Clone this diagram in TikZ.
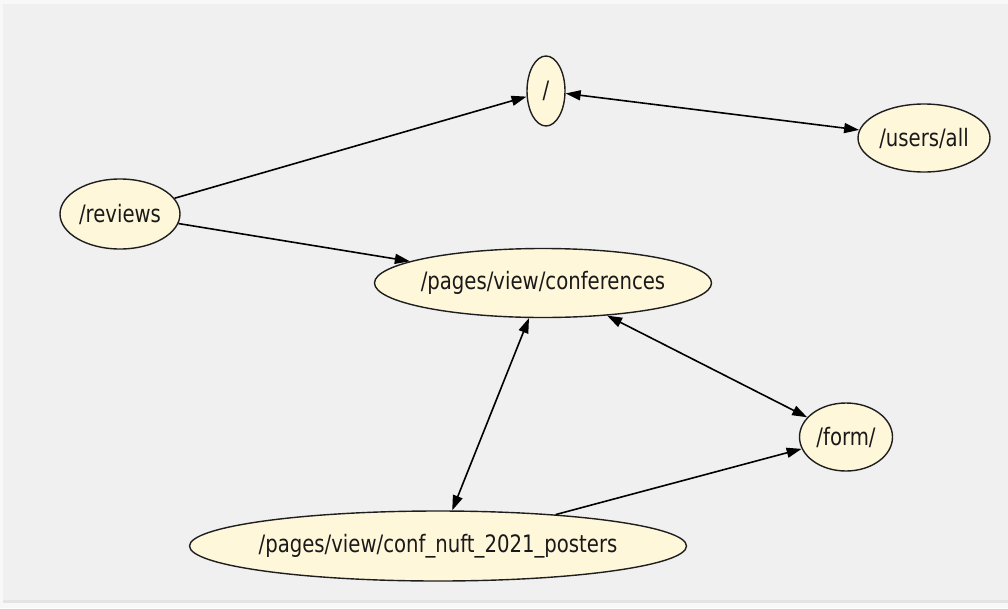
\documentclass[tikz,border=0pt]{standalone}
\usepackage{fontspec}
\setmainfont[FakeStretch=0.82]{DejaVu Sans}
\usetikzlibrary{shapes.geometric,arrows.meta}
\definecolor{pagebg}{HTML}{F0F0F0}
\definecolor{edgebg}{HTML}{F8F8F8}
\definecolor{rulebg}{HTML}{E4E4E4}
\definecolor{nodefill}{HTML}{FFF7DA}
\definecolor{nodeline}{HTML}{1E1E1E}
% label centred without widening its ellipse
\newcommand{\routetext}[1]{\makebox[0pt]{#1}}
\tikzset{
  route/.style={ellipse, draw=nodeline, line width=1.4pt, fill=nodefill,
    inner sep=0pt, font=\fontsize{24}{27}\selectfont, text=black!90},
  tip/.style={},
  link/.style={line width=1.6pt, draw=black, -{Triangle[length=15pt,width=10pt]}},
  both/.style={link, {Triangle[length=15pt,width=10pt]}-{Triangle[length=15pt,width=10pt]}}
}
\begin{document}
\begin{tikzpicture}[x=1pt,y=-1pt]
  % canvas
  \fill[edgebg] (0,0) rectangle (1008,608);
  \fill[pagebg] (3,4) rectangle (1008,600);
  \fill[rulebg] (3,600) rectangle (1008,603);
  \useasboundingbox (0,0) rectangle (1008,608);

  % pages
  \node[route, minimum width=38pt, minimum height=70pt] (root) at (546,91) {\routetext{/}};
  \node[route, minimum width=132pt, minimum height=68pt] (users) at (924,138) {\routetext{/users/all}};
  \node[route, minimum width=120pt, minimum height=70pt] (reviews) at (120,214) {\routetext{/reviews}};
  \node[route, minimum width=337pt, minimum height=69pt] (conf) at (543,283) {\routetext{/pages/view/conferences}};
  \node[route, minimum width=93pt, minimum height=68pt] (form) at (846,437) {\routetext{/form/}};
  \node[route, minimum width=497pt, minimum height=70pt] (posters) at (438,546) {\routetext{/pages/view/conf\_nuft\_2021\_posters}};

  % links
  \draw[link] (reviews) -- (root);
  \draw[both] (root) -- (users);
  \draw[link] (reviews) -- (conf);
  \draw[both] (conf) -- (form);
  \draw[both] (conf) -- (posters);
  \draw[link] (posters) -- (form);
\end{tikzpicture}
\end{document}
